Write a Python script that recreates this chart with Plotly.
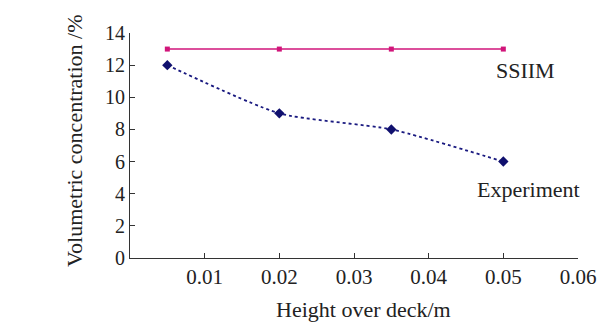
import plotly.graph_objects as go

height = [0.005, 0.02, 0.035, 0.05]
ssiim = [13, 13, 13, 13]
experiment = [12, 9, 8, 6]
x_ticks = [0.01, 0.02, 0.03, 0.04, 0.05, 0.06]
x_tick_labels = ["0.01", "0.02", "0.03", "0.04", "0.05", "0.06"]
y_ticks = [0, 2, 4, 6, 8, 10, 12, 14]

font = "Liberation Serif, Times New Roman, serif"

fig = go.Figure()
fig.add_trace(go.Scatter(
    x=height, y=ssiim, mode="lines+markers", name="SSIIM",
    line=dict(color="#d1157a", width=1.5),
    marker=dict(symbol="square", size=5, color="#d1157a"),
))
fig.add_trace(go.Scatter(
    x=height, y=experiment, mode="lines+markers", name="Experiment",
    line=dict(color="#1a1a80", width=1.8, dash="dot", shape="spline", smoothing=0.6),
    marker=dict(symbol="diamond", size=8, color="#10106e"),
))

fig.add_annotation(x=height[-1], y=ssiim[-1], text="SSIIM", showarrow=False,
                   xanchor="center", yanchor="middle", xshift=22, yshift=-21,
                   font=dict(family=font, size=22, color="#222"))
fig.add_annotation(x=height[-1], y=experiment[-1], text="Experiment", showarrow=False,
                   xanchor="center", yanchor="middle", xshift=25, yshift=-28,
                   font=dict(family=font, size=22, color="#222"))

# axis titles
fig.add_annotation(xref="paper", yref="paper", x=0.5, y=0, text="Height over deck/m",
                   showarrow=False, xanchor="center", yanchor="middle",
                   xshift=9, yshift=-51, font=dict(family=font, size=22, color="#222"))
fig.add_annotation(xref="paper", yref="paper", x=0, y=0.52, text="Volumetric concentration /%",
                   showarrow=False, xanchor="center", yanchor="middle", textangle=-90,
                   xshift=-56, font=dict(family=font, size=22, color="#222"))

fig.update_layout(
    width=615, height=324,
    margin=dict(l=122, r=45, t=25, b=74),
    paper_bgcolor="white", plot_bgcolor="white",
    showlegend=False,
    font=dict(family=font, size=21, color="#222"),
)
fig.update_xaxes(
    range=[0, 0.06], tickvals=x_ticks, ticktext=x_tick_labels,
    showgrid=False, zeroline=False, showline=True, linecolor="#333", linewidth=1.2,
    ticks="inside", ticklen=5, tickcolor="#333",
    tickfont=dict(family=font, size=21),
)
fig.update_yaxes(
    range=[0, 14], tickvals=y_ticks,
    showgrid=False, zeroline=False, showline=True, linecolor="#333", linewidth=1.2,
    ticks="inside", ticklen=5, tickcolor="#333",
    tickfont=dict(family=font, size=20),
)

fig.write_html("out.html")
